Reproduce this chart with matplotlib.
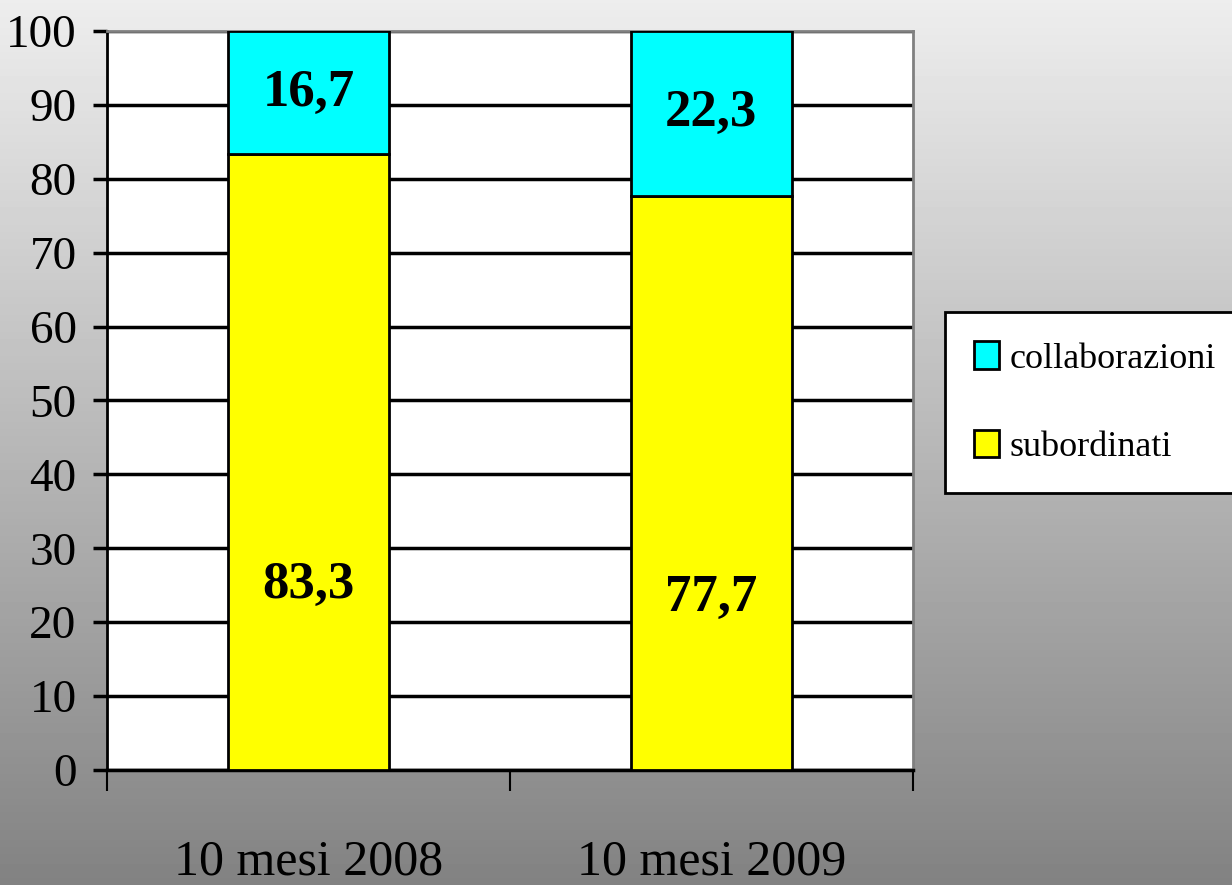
import numpy as np
import matplotlib.pyplot as plt

# data
categories = ['10 mesi 2008', '10 mesi 2009']
subordinati = [83.3, 77.7]
collaborazioni = [16.7, 22.3]
sub_labels = ['83,3', '77,7']
coll_labels = ['16,7', '22,3']

plt.rcParams['font.family'] = ['Liberation Serif', 'DejaVu Serif']

fig = plt.figure(figsize=(12.32, 8.85), dpi=100)

# grey gradient background
bg = fig.add_axes([0, 0, 1, 1], zorder=-10)
grad = np.linspace(0.93, 0.51, 256).reshape(-1, 1)
bg.imshow(grad, cmap='gray', vmin=0, vmax=1, aspect='auto', extent=[0, 1, 0, 1])
bg.axis('off')

ax = fig.add_axes([0.0869, 0.130, 0.654, 0.835])
ax.set_facecolor('white')

x = np.arange(len(categories))
w = 0.4
ax.bar(x, subordinati, w, color='#ffff00', edgecolor='black', linewidth=2,
       label='subordinati', zorder=3)
ax.bar(x, collaborazioni, w, bottom=subordinati, color='#00ffff',
       edgecolor='black', linewidth=2, label='collaborazioni', zorder=3)

# value labels
for i in range(len(categories)):
    ax.text(x[i], subordinati[i] * 0.3, sub_labels[i], ha='center', va='center',
            fontsize=38, fontweight='bold', zorder=4)
    ax.text(x[i], subordinati[i] + collaborazioni[i] / 2, coll_labels[i],
            ha='center', va='center', fontsize=38, fontweight='bold', zorder=4)

ax.set_xlim(-0.5, 1.5)
ax.set_ylim(0, 100)
ax.set_yticks(range(0, 101, 10))
ax.yaxis.grid(True, color='black', linewidth=2.5, zorder=1)
ax.set_axisbelow(True)
ax.tick_params(axis='y', labelsize=34, length=10, width=2.5, pad=12, direction='out')

# category labels centred, tick marks at the boundaries
ax.set_xticks(x)
ax.set_xticklabels(categories)
ax.set_xticks([-0.5, 0.5, 1.5], minor=True)
ax.tick_params(axis='x', which='major', length=0, labelsize=36, pad=50)
ax.tick_params(axis='x', which='minor', length=15, width=1.5, direction='out')

ax.spines['left'].set_linewidth(2)
ax.spines['bottom'].set_linewidth(2.5)
ax.spines['top'].set_color('#808080')
ax.spines['right'].set_color('#808080')
ax.spines['top'].set_linewidth(2)
ax.spines['right'].set_linewidth(2)

handles, labels = ax.get_legend_handles_labels()
leg = fig.legend(handles[::-1], labels[::-1], loc='upper left',
                 bbox_to_anchor=(0.767, 0.647), borderaxespad=0, fontsize=26,
                 frameon=True, fancybox=False, edgecolor='black', framealpha=1,
                 handlelength=0.7, handleheight=0.8, handletextpad=0.3,
                 labelspacing=1.5, borderpad=0.8)
leg.get_frame().set_linewidth(2)

plt.savefig('out.png', dpi=100)
